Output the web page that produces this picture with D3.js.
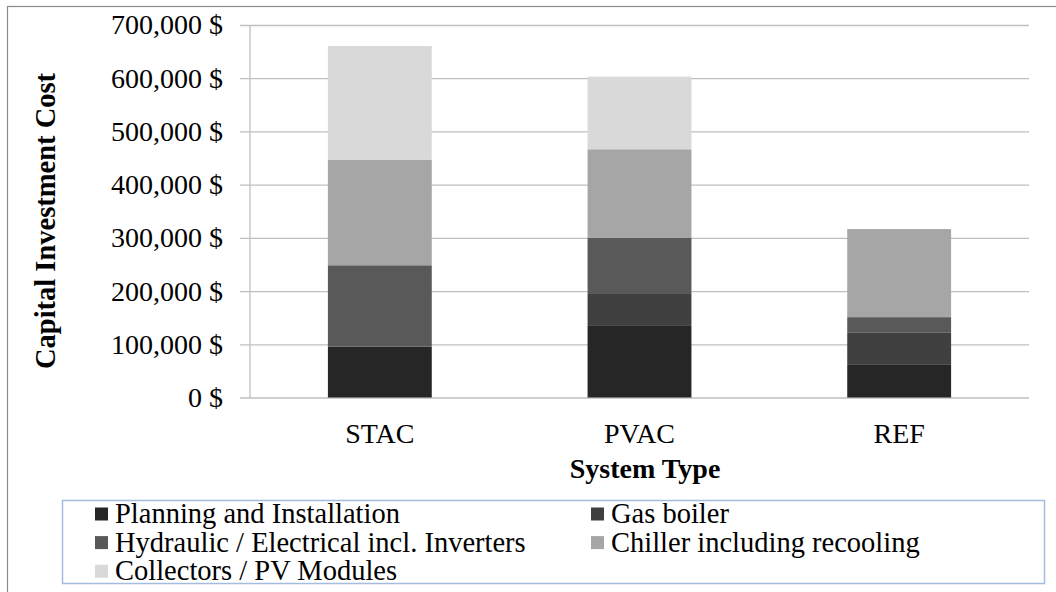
<!DOCTYPE html>
<html>
<head>
<meta charset="utf-8">
<script src="https://cdn.jsdelivr.net/npm/d3@7"></script>
<style>
  html, body { margin: 0; padding: 0; background: #ffffff; }
  svg { display: block; }
  svg text { font-family: 'Liberation Serif', 'Times New Roman', serif !important; fill: #000000 !important; }
</style>
</head>
<body>
<svg id="chart" width="1056" height="592"></svg>
<script>
// System types on the x axis
const categories = ["STAC", "PVAC", "REF"];

// Cost components per system type (USD)
const planningInstallation = [95500, 134500, 62500];
const gasBoiler            = [0, 60000, 60000];
const hydraulicElectrical  = [153000, 106000, 28500];
const chillerRecooling     = [198000, 166000, 165500];
const collectorsModules    = [214000, 136500, 0];

// Y axis tick values
const yTicks = [0, 100000, 200000, 300000, 400000, 500000, 600000, 700000];

const seriesNames = [
  "Planning and Installation",
  "Gas boiler",
  "Hydraulic / Electrical incl. Inverters",
  "Chiller including recooling",
  "Collectors / PV Modules"
];
const seriesValues = [
  planningInstallation, gasBoiler, hydraulicElectrical, chillerRecooling, collectorsModules
];
const seriesColors = ["#262626", "#404040", "#595959", "#a6a6a6", "#d9d9d9"];

const rows = categories.map((c, i) => {
  const r = { category: c };
  seriesNames.forEach((n, j) => { r[n] = seriesValues[j][i]; });
  return r;
});

const SERIF = "font-family:'Liberation Serif','Times New Roman',serif;fill:#000000;";

const svg = d3.select("#chart");
const W = 1056, H = 592;
const plot = { left: 250, right: 1029, top: 25, bottom: 397.5 };

svg.append("rect").attr("width", W).attr("height", H).attr("fill", "#fff");

// Outer chart border
svg.append("rect")
  .attr("x", 7.5).attr("y", 6.5)
  .attr("width", W + 20).attr("height", H + 20)
  .attr("fill", "none").attr("stroke", "#8a8a8a").attr("stroke-width", 1.2);

const x = d3.scaleBand()
  .domain(categories)
  .range([plot.left, plot.right])
  .paddingInner(0.6)
  .paddingOuter(0.3);

const y = d3.scaleLinear()
  .domain([0, 700000])
  .range([plot.bottom, plot.top]);

// Gridlines with tick stubs to the left of the axis
const yAxis = d3.axisLeft(y)
  .tickValues(yTicks)
  .tickSize(10)
  .tickPadding(17)
  .tickFormat(v => d3.format(",")(v) + " $");

const gy = svg.append("g")
  .attr("transform", `translate(${plot.left},0)`)
  .attr("font-family", null)
  .call(yAxis);
gy.select(".domain").remove();
gy.selectAll(".tick line")
  .attr("x1", -10)
  .attr("x2", plot.right - plot.left)
  .attr("stroke", "#bfbfbf").attr("stroke-width", 1.3);
gy.selectAll(".tick text")
  .attr("x", -27)
  .attr("font-size", 28)
  .attr("style", SERIF + "font-size:28px;");

// Vertical axis line
svg.append("line")
  .attr("x1", plot.left).attr("x2", plot.left)
  .attr("y1", plot.top).attr("y2", plot.bottom)
  .attr("stroke", "#bfbfbf").attr("stroke-width", 1.3);

// Stacked bars
const stack = d3.stack().keys(seriesNames);
const layers = stack(rows);

svg.append("g").selectAll("g")
  .data(layers)
  .join("g")
  .attr("fill", (d, i) => seriesColors[i])
  .selectAll("rect")
  .data(d => d)
  .join("rect")
  .attr("x", d => x(d.data.category))
  .attr("width", x.bandwidth())
  .attr("y", d => y(d[1]))
  .attr("height", d => y(d[0]) - y(d[1]));

// X axis category labels
const xAxis = d3.axisBottom(x).tickSize(0).tickPadding(26);
const gx = svg.append("g")
  .attr("transform", `translate(0,${plot.bottom})`)
  .call(xAxis);
gx.select(".domain").remove();
gx.selectAll(".tick text")
  .attr("style", SERIF + "font-size:28px;");

// Axis titles
svg.append("text")
  .attr("x", 645).attr("y", 478)
  .attr("text-anchor", "middle")
  .attr("style", SERIF + "font-size:28px;font-weight:bold;")
  .text("System Type");

svg.append("text")
  .attr("transform", "translate(55,221) rotate(-90)")
  .attr("text-anchor", "middle")
  .attr("style", SERIF + "font-size:28.5px;font-weight:bold;")
  .text("Capital Investment Cost");

// Legend
const legend = svg.append("g");
legend.append("rect")
  .attr("x", 62.5).attr("y", 500.5)
  .attr("width", 982).attr("height", 83)
  .attr("fill", "#fff").attr("stroke", "#a3bddf").attr("stroke-width", 1.5);

const legendPos = [
  { sx: 95, row: 0 }, { sx: 591, row: 0 },
  { sx: 95, row: 1 }, { sx: 591, row: 1 },
  { sx: 95, row: 2 }
];
seriesNames.forEach((name, i) => {
  const p = legendPos[i];
  const cy = 514 + p.row * 28.6;
  legend.append("rect")
    .attr("x", p.sx).attr("y", cy - 6.5)
    .attr("width", 13).attr("height", 13)
    .attr("fill", seriesColors[i]);
  legend.append("text")
    .attr("x", p.sx + 20).attr("y", cy + 9)
    .attr("style", SERIF + "font-size:28.5px;")
    .text(name);
});
</script>
</body>
</html>
